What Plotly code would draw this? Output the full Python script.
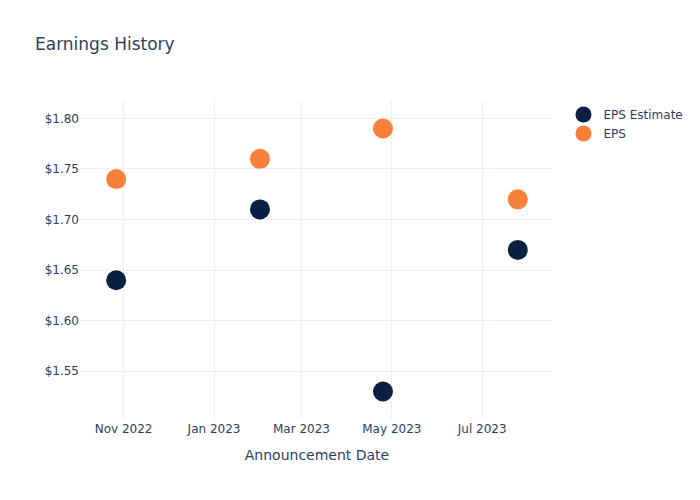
import plotly.graph_objects as go

dates = ["2022-10-27", "2023-02-01", "2023-04-25", "2023-07-25"]
eps_estimate = [1.64, 1.71, 1.53, 1.67]
eps_actual = [1.74, 1.76, 1.79, 1.72]

fig = go.Figure()
fig.add_trace(go.Scatter(x=dates, y=eps_estimate, mode="markers", name="EPS Estimate",
                         marker=dict(color="#0b1f42", size=20)))
fig.add_trace(go.Scatter(x=dates, y=eps_actual, mode="markers", name="EPS",
                         marker=dict(color="#f7803a", size=20)))
fig.update_layout(
    template="plotly_white",
    width=700, height=500,
    font=dict(family="DejaVu Sans"),
    title=dict(text="Earnings History"),
    xaxis=dict(title=dict(text="Announcement Date")),
    yaxis=dict(tickprefix="$", tickformat=".2f"),
)
fig.write_html("out.html", config={"displayModeBar": False},
               post_script="document.body.style.margin='0';")
